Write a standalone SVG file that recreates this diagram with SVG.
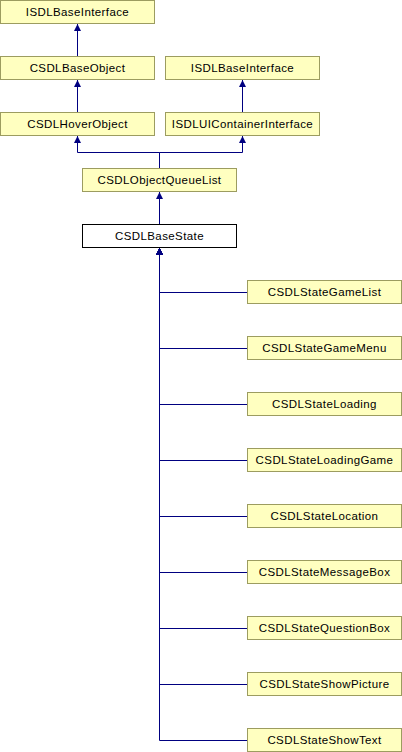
<svg xmlns="http://www.w3.org/2000/svg" width="402" height="752" viewBox="0 0 402 752">
<defs>
<style>
.n rect{fill:#ffffc0;stroke:#9c9c60;stroke-width:1}
.n.w rect{fill:#ffffff;stroke:#000000}
.n text{font-family:"Liberation Sans",Arial,sans-serif;font-size:11.5px;letter-spacing:0.4px;text-anchor:middle;fill:#000000}
.e path{fill:none;stroke:#000080;stroke-width:1;marker-end:url(#a)}
</style>
<marker id="a" markerUnits="userSpaceOnUse" markerWidth="7" markerHeight="7" refX="7" refY="3.5" orient="auto">
<path d="M0,0 L7,3.5 L0,7 z" fill="#000080"/>
</marker>
</defs>
<rect width="402" height="752" fill="#ffffff"/>
<g id="edges" class="e">
<path d="M77.5,56 V24"/>
<path d="M77.5,112 V80"/>
<path d="M242.5,112 V80"/>
<path d="M159.5,168 V152.5 H77.5 V136"/>
<path d="M159.5,168 V152.5 H242.5 V136"/>
<path d="M159.5,224 V192"/>
<path d="M247,292.5 H159.5 V248"/>
<path d="M247,348.5 H159.5 V248"/>
<path d="M247,404.5 H159.5 V248"/>
<path d="M247,460.5 H159.5 V248"/>
<path d="M247,516.5 H159.5 V248"/>
<path d="M247,572.5 H159.5 V248"/>
<path d="M247,628.5 H159.5 V248"/>
<path d="M247,684.5 H159.5 V248"/>
<path d="M247,740.5 H159.5 V248"/>
</g>
<g id="ISDLBaseInterface" class="n"><rect x="0.5" y="0.5" width="154" height="23"/><text x="77.5" y="16">ISDLBaseInterface</text></g>
<g id="CSDLBaseObject" class="n"><rect x="0.5" y="56.5" width="154" height="23"/><text x="77.5" y="72">CSDLBaseObject</text></g>
<g id="CSDLHoverObject" class="n"><rect x="0.5" y="112.5" width="154" height="23"/><text x="77.5" y="128">CSDLHoverObject</text></g>
<g id="ISDLBaseInterface2" class="n"><rect x="165.5" y="56.5" width="154" height="23"/><text x="242.5" y="72">ISDLBaseInterface</text></g>
<g id="ISDLUIContainerInterface" class="n"><rect x="165.5" y="112.5" width="154" height="23"/><text x="242.5" y="128">ISDLUIContainerInterface</text></g>
<g id="CSDLObjectQueueList" class="n"><rect x="82.5" y="168.5" width="154" height="23"/><text x="159.5" y="184">CSDLObjectQueueList</text></g>
<g id="CSDLBaseState" class="n w"><rect x="82.5" y="224.5" width="154" height="23"/><text x="159.5" y="240">CSDLBaseState</text></g>
<g id="CSDLStateGameList" class="n"><rect x="247.5" y="280.5" width="154" height="23"/><text x="324.5" y="296">CSDLStateGameList</text></g>
<g id="CSDLStateGameMenu" class="n"><rect x="247.5" y="336.5" width="154" height="23"/><text x="324.5" y="352">CSDLStateGameMenu</text></g>
<g id="CSDLStateLoading" class="n"><rect x="247.5" y="392.5" width="154" height="23"/><text x="324.5" y="408">CSDLStateLoading</text></g>
<g id="CSDLStateLoadingGame" class="n"><rect x="247.5" y="448.5" width="154" height="23"/><text x="324.5" y="464">CSDLStateLoadingGame</text></g>
<g id="CSDLStateLocation" class="n"><rect x="247.5" y="504.5" width="154" height="23"/><text x="324.5" y="520">CSDLStateLocation</text></g>
<g id="CSDLStateMessageBox" class="n"><rect x="247.5" y="560.5" width="154" height="23"/><text x="324.5" y="576">CSDLStateMessageBox</text></g>
<g id="CSDLStateQuestionBox" class="n"><rect x="247.5" y="616.5" width="154" height="23"/><text x="324.5" y="632">CSDLStateQuestionBox</text></g>
<g id="CSDLStateShowPicture" class="n"><rect x="247.5" y="672.5" width="154" height="23"/><text x="324.5" y="688">CSDLStateShowPicture</text></g>
<g id="CSDLStateShowText" class="n"><rect x="247.5" y="728.5" width="154" height="23"/><text x="324.5" y="744">CSDLStateShowText</text></g>
</svg>
